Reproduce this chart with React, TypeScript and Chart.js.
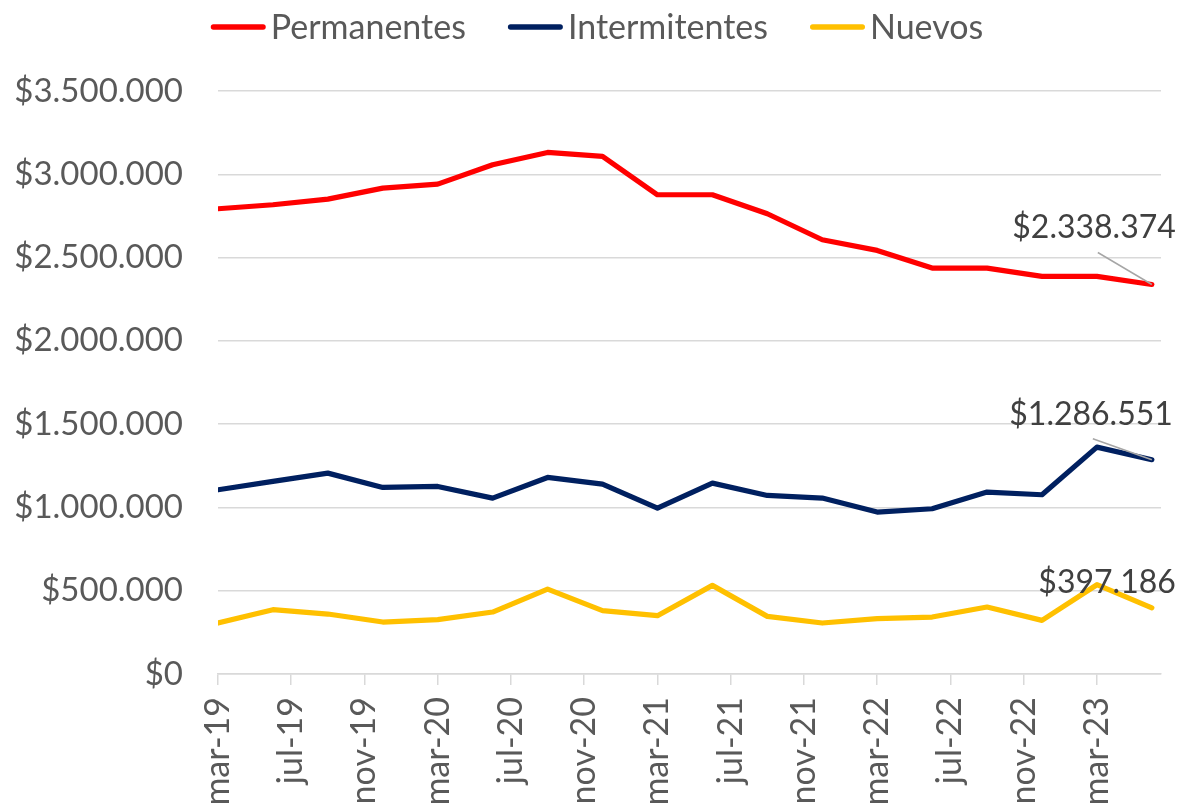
import React, { useEffect, useRef } from 'react';
import { Chart, registerables } from 'chart.js';

Chart.register(...registerables);

// ---- data ----
const monthNames = ['ene', 'feb', 'mar', 'abr', 'may', 'jun', 'jul', 'ago', 'sep', 'oct', 'nov', 'dic'];
const quarters = [
  'mar-19', 'jun-19', 'sep-19', 'dic-19',
  'mar-20', 'jun-20', 'sep-20', 'dic-20',
  'mar-21', 'jun-21', 'sep-21', 'dic-21',
  'mar-22', 'jun-22', 'sep-22', 'dic-22',
  'mar-23', 'jun-23',
];
const tickLabels = [
  'mar-19', 'jul-19', 'nov-19', 'mar-20', 'jul-20', 'nov-20', 'mar-21',
  'jul-21', 'nov-21', 'mar-22', 'jul-22', 'nov-22', 'mar-23',
];
const permanentes = [
  2793000, 2817000, 2851000, 2917000, 2941000, 3057000, 3131000, 3107000, 2877000,
  2877000, 2763000, 2607000, 2543000, 2437000, 2437000, 2387000, 2387000, 2338374,
];
const intermitentes = [
  1106000, 1156000, 1206000, 1120000, 1126000, 1056000, 1180000, 1140000, 996000,
  1146000, 1072000, 1056000, 972000, 992000, 1092000, 1076000, 1362000, 1286551,
];
const nuevos = [
  306000, 386000, 360000, 312000, 326000, 372000, 510000, 380000, 350000,
  532000, 346000, 306000, 332000, 342000, 402000, 322000, 536000, 397186,
];
const seriesNames = ['Permanentes', 'Intermitentes', 'Nuevos'];
const yMax = 3500000;
const yStep = 500000;

// ---- styles ----
const seriesColors = ['#FF0000', '#002060', '#FFC000'];
const FONT = 'Lato';
// label offsets relative to the last point (text right edge x, text baseline y, leader start)
const labelStyle = [
  { dx: 24, dy: -46, leader: [-54, -32] as [number, number] | null },
  { dx: 21, dy: -35, leader: [-59, -21] as [number, number] | null },
  { dx: 24, dy: -15, leader: null as [number, number] | null },
];

function monthIndex(label: string): number {
  const [m, y] = label.split('-');
  return (parseInt(y, 10) - 19) * 12 + monthNames.indexOf(m) - 2;
}

function fmt(v: number): string {
  const s = Math.round(v).toString().replace(/\B(?=(\d{3})+(?!\d))/g, '.');
  return '$' + s;
}

const lastLabelPlugin = {
  id: 'lastLabels',
  afterDatasetsDraw(chart: any) {
    const ctx = chart.ctx;
    chart.data.datasets.forEach((ds: any, i: number) => {
      const meta = chart.getDatasetMeta(i);
      const pt = meta.data[meta.data.length - 1];
      if (!pt) return;
      const st = labelStyle[i];
      const raw = ds.data[ds.data.length - 1];
      ctx.save();
      if (st.leader) {
        ctx.strokeStyle = '#A6A6A6';
        ctx.lineWidth = 1.5;
        ctx.beginPath();
        ctx.moveTo(pt.x + st.leader[0], pt.y + st.leader[1]);
        ctx.lineTo(pt.x, pt.y);
        ctx.stroke();
      }
      ctx.fillStyle = '#404040';
      ctx.font = `32px ${FONT}`;
      ctx.textAlign = 'right';
      ctx.textBaseline = 'alphabetic';
      ctx.fillText(fmt(raw.y), pt.x + st.dx, pt.y + st.dy);
      ctx.restore();
    });
  },
};

const legendPlugin = {
  id: 'excelLegend',
  afterDraw(chart: any) {
    const ctx = chart.ctx;
    ctx.save();
    ctx.font = `34px ${FONT}`;
    const lineLen = 55;
    const gapLT = 5;
    const gapItems = 42;
    const widths = chart.data.datasets.map((ds: any) => ctx.measureText(ds.label).width);
    const total =
      widths.reduce((a: number, w: number) => a + lineLen + gapLT + w, 0) +
      gapItems * (widths.length - 1);
    const centerX = 589;
    let x = centerX - total / 2;
    const lineY = 19;
    const textY = 31;
    chart.data.datasets.forEach((ds: any, i: number) => {
      ctx.strokeStyle = ds.borderColor;
      ctx.lineWidth = 5.4;
      ctx.lineCap = 'round';
      ctx.beginPath();
      ctx.moveTo(x + 2.7, lineY);
      ctx.lineTo(x + lineLen - 2.7, lineY);
      ctx.stroke();
      ctx.fillStyle = '#595959';
      ctx.textAlign = 'left';
      ctx.textBaseline = 'alphabetic';
      ctx.fillText(ds.label, x + lineLen + gapLT, textY);
      x += lineLen + gapLT + widths[i] + gapItems;
    });
    ctx.restore();
  },
};

export default function App() {
  const canvasRef = useRef<HTMLCanvasElement | null>(null);

  useEffect(() => {
    if (!canvasRef.current) return;
    const values = [permanentes, intermitentes, nuevos];
    const chart = new Chart(canvasRef.current, {
      type: 'line',
      data: {
        datasets: values.map((vals, i) => ({
          label: seriesNames[i],
          data: quarters.map((q, k) => ({ x: monthIndex(q), y: vals[k] })),
          borderColor: seriesColors[i],
          backgroundColor: seriesColors[i],
          borderWidth: 5.2,
          borderJoinStyle: 'round' as const,
          borderCapStyle: 'round' as const,
          pointRadius: 0,
          pointHoverRadius: 0,
          tension: 0,
          fill: false,
        })),
      },
      options: {
        animation: false,
        responsive: true,
        maintainAspectRatio: false,
        layout: { padding: { top: 83, right: 22, left: 0, bottom: 0 } },
        plugins: {
          legend: { display: false },
          tooltip: { enabled: false },
        },
        scales: {
          x: {
            type: 'linear',
            min: 0,
            max: 51.5,
            afterBuildTicks: (axis: any) => {
              axis.ticks = tickLabels.map((l) => ({ value: monthIndex(l) }));
            },
            afterFit: (axis: any) => {
              axis.height = 130;
            },
            ticks: {
              autoSkip: false,
              minRotation: 90,
              maxRotation: 90,
              padding: 12,
              color: '#595959',
              font: { family: FONT, size: 34 },
              callback: (v: any) => {
                const l = tickLabels.find((t) => monthIndex(t) === v);
                return l ?? '';
              },
            },
            grid: {
              drawOnChartArea: false,
              drawTicks: true,
              tickLength: 11,
              color: '#D9D9D9',
              lineWidth: 1.5,
            },
            border: { display: true, color: '#D9D9D9', width: 1.5 },
          },
          y: {
            min: 0,
            max: yMax,
            afterFit: (axis: any) => {
              axis.width = 210;
            },
            ticks: {
              stepSize: yStep,
              padding: 35,
              color: '#595959',
              font: { family: FONT, size: 33 },
              callback: (v: any) => fmt(Number(v)),
            },
            grid: {
              drawTicks: false,
              color: '#D9D9D9',
              lineWidth: 1.5,
            },
            border: { display: false },
          },
        },
      },
      plugins: [lastLabelPlugin, legendPlugin],
    } as any);
    return () => chart.destroy();
  }, []);

  return (
    <div style={{ width: '1175px', height: '796px', position: 'relative' }}>
      <canvas ref={canvasRef} />
    </div>
  );
}
